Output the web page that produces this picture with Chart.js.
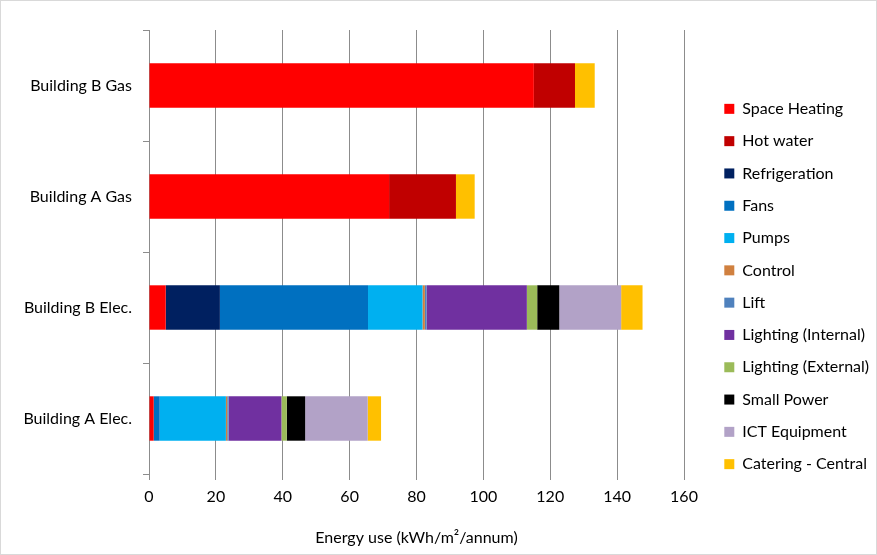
<!DOCTYPE html>
<html>
<head>
<meta charset="utf-8">
<script src="https://cdn.jsdelivr.net/npm/chart.js@4/dist/chart.umd.min.js"></script>
<style>
  html, body { margin: 0; padding: 0; background: #fff; }
  #wrap { width: 877px; height: 555px; }
</style>
</head>
<body>
<div id="wrap"><canvas id="energyChart" width="877" height="555"></canvas></div>
<script>
// buildings, top to bottom
const buildings = ['Building B Gas', 'Building A Gas', 'Building B Elec.', 'Building A Elec.'];

// kWh/m2/annum per end use, in the same order as buildings
const spaceHeating  = [115.1, 71.8, 5.0, 1.4];
const hotWater      = [12.3, 20.0, 0, 0];
const refrigeration = [0, 0, 16.2, 0];
const fans          = [0, 0, 44.3, 1.8];
const pumps         = [0, 0, 16.3, 19.8];
const control       = [0, 0, 0.7, 0.4];
const lift          = [0, 0, 0.5, 0.4];
const lightingInt   = [0, 0, 30.0, 15.8];
const lightingExt   = [0, 0, 3.1, 1.6];
const smallPower    = [0, 0, 6.6, 5.5];
const ictEquipment  = [0, 0, 18.5, 18.7];
const catering      = [5.9, 5.6, 6.4, 4.0];

const xTicks = [0, 20, 40, 60, 80, 100, 120, 140, 160];

const series = [
  ['Space Heating', spaceHeating, '#FF0000'],
  ['Hot water', hotWater, '#C00000'],
  ['Refrigeration', refrigeration, '#002060'],
  ['Fans', fans, '#0070C0'],
  ['Pumps', pumps, '#00B0F0'],
  ['Control', control, '#D0803F'],
  ['Lift', lift, '#4F81BD'],
  ['Lighting (Internal)', lightingInt, '#7030A0'],
  ['Lighting (External)', lightingExt, '#9BBB59'],
  ['Small Power', smallPower, '#000000'],
  ['ICT Equipment', ictEquipment, '#B2A2C7'],
  ['Catering - Central', catering, '#FFC000']
];

const font = { family: 'Lato, "Open Sans", sans-serif', size: 16 };

// keep legend where excel put it
const legendPlace = {
  id: 'legendPlace',
  afterInit(chart) {
    const lg = chart.legend;
    const fit = lg.fit.bind(lg);
    lg.fit = function () { fit(); this.width = 193; };
  },
  afterLayout(chart) {
    const lg = chart.legend;
    lg.left += 24; lg.right += 24;
    lg.top -= 6; lg.bottom -= 6;
  },
  beforeDraw(chart) {
    const c = chart.ctx;
    c.save();
    c.strokeStyle = '#d9d9d9';
    c.lineWidth = 1;
    c.strokeRect(0.5, 0.5, chart.width - 1, chart.height - 1);
    c.restore();
  }
};

new Chart(document.getElementById('energyChart'), {
  type: 'bar',
  data: {
    labels: buildings,
    datasets: series.map(([label, data, color]) => ({
      label,
      data,
      backgroundColor: color,
      borderWidth: 0,
      barPercentage: 0.4,
      categoryPercentage: 1
    }))
  },
  options: {
    indexAxis: 'y',
    responsive: false,
    animation: false,
    layout: { padding: { top: 30, left: 0, right: 0, bottom: 0 } },
    plugins: {
      legend: {
        position: 'right',
        labels: { boxWidth: 10, boxHeight: 10, padding: 16.3, color: '#000', font }
      },
      tooltip: { enabled: false }
    },
    scales: {
      x: {
        stacked: true,
        min: 0,
        max: 160,
        afterBuildTicks: (s) => { s.ticks = xTicks.map(v => ({ value: v })); },
        afterFit: (s) => { s.height = 81; },
        grid: { color: '#8c8c8c', tickLength: 6, drawTicks: true },
        border: { display: false },
        ticks: { color: '#000', font, padding: 7 },
        title: { display: true, text: 'Energy use (kWh/m²/annum)', color: '#000', font, padding: { top: 2, bottom: 8 } }
      },
      y: {
        stacked: true,
        afterFit: (s) => { s.width = 149; },
        grid: { offset: true, drawOnChartArea: false, tickLength: 6, color: '#8c8c8c' },
        border: { display: true, color: '#8c8c8c' },
        ticks: { color: '#000', font, padding: 11 }
      }
    }
  },
  plugins: [legendPlace]
});
</script>
</body>
</html>
